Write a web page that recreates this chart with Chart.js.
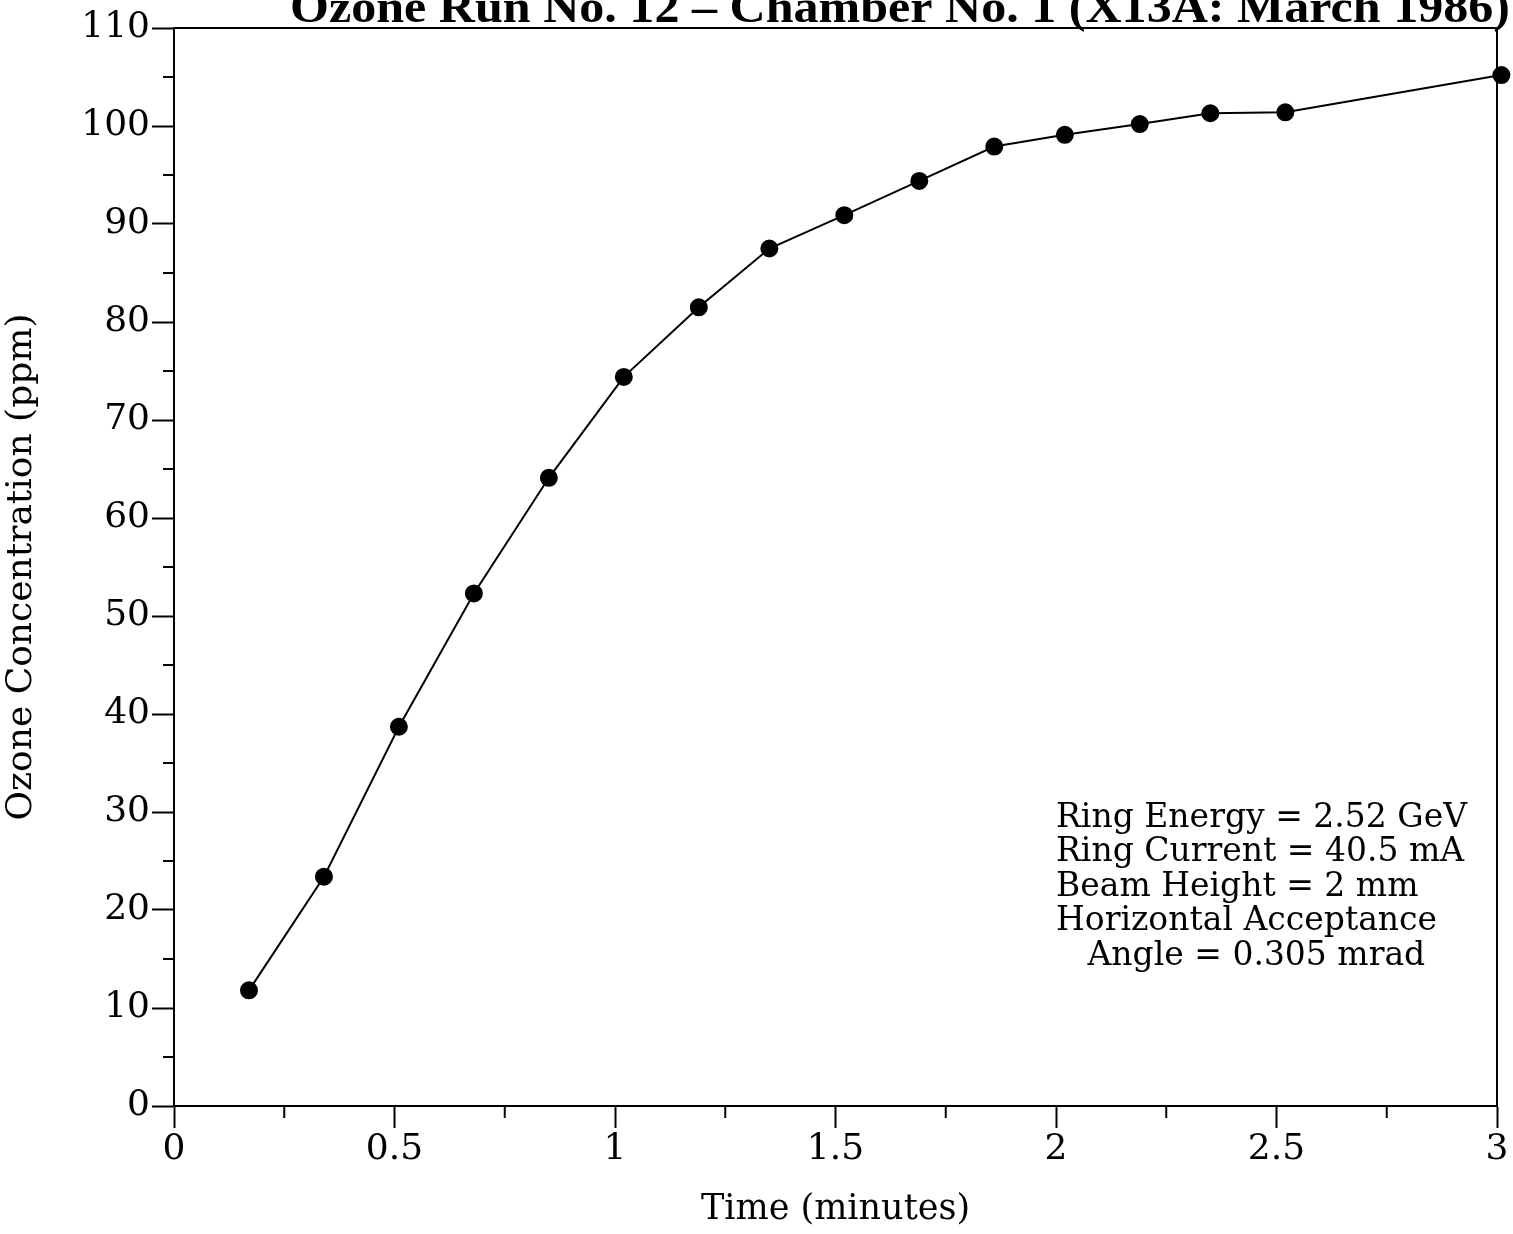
<!DOCTYPE html>
<html>
<head>
<meta charset="utf-8">
<script src="https://cdn.jsdelivr.net/npm/chart.js@4.4.1/dist/chart.umd.min.js"></script>
<style>
  html, body { margin: 0; padding: 0; background: #fff; }
  #wrap { width: 1513px; height: 1234px; position: relative; }
</style>
</head>
<body>
<div id="wrap"><canvas id="ozone-chart"></canvas></div>
<script>
// readings: time in minutes, ozone in ppm
const times = [0.17, 0.34, 0.51, 0.68, 0.85, 1.02, 1.19, 1.35, 1.52, 1.69, 1.86, 2.02, 2.19, 2.35, 2.52, 3.01];
const ozone = [11.8, 23.4, 38.7, 52.3, 64.1, 74.4, 81.5, 87.5, 90.9, 94.4, 97.9, 99.1, 100.2, 101.3, 101.4, 105.2];

const minorX = [0.25, 0.75, 1.25, 1.75, 2.25, 2.75];
const minorY = [5, 15, 25, 35, 45, 55, 65, 75, 85, 95, 105];

const titleText = 'Ozone Run No. 12 \u2013 Chamber No. 1 (X13A: March 1986)';
const noteLines = [
    'Ring Energy = 2.52 GeV',
    'Ring Current = 40.5 mA',
    'Beam Height = 2 mm',
    'Horizontal Acceptance',
    '   Angle = 0.305 mrad'
];

const serif = '"DejaVu Serif", "Liberation Serif", serif';

// box around the plot, the small ticks, the cut-off title and the note
const extras = {
    id: 'extras',
    afterDraw(chart) {
        const ctx = chart.ctx;
        const a = chart.chartArea;
        const x = chart.scales.x;
        const y = chart.scales.y;
        ctx.save();
        ctx.strokeStyle = '#000';
        ctx.lineWidth = 2;
        ctx.strokeRect(a.left, a.top, a.right - a.left, a.bottom - a.top);

        // minor ticks
        ctx.beginPath();
        minorX.forEach(v => {
            const px = x.getPixelForValue(v);
            ctx.moveTo(px, a.bottom);
            ctx.lineTo(px, a.bottom + 12);
        });
        minorY.forEach(v => {
            const py = y.getPixelForValue(v);
            ctx.moveTo(a.left, py);
            ctx.lineTo(a.left - 11, py);
        });
        ctx.stroke();

        // title, top half is cut off in the original scan
        ctx.fillStyle = '#000';
        ctx.font = 'bold 46px "Liberation Serif", serif';
        ctx.textAlign = 'center';
        ctx.textBaseline = 'alphabetic';
        const w = ctx.measureText(titleText).width;
        ctx.save();
        ctx.translate(900, 22);
        ctx.scale(1220 / w, 1);
        ctx.fillText(titleText, 0, 0);
        ctx.restore();

        ctx.font = '33px ' + serif;
        ctx.textAlign = 'left';
        ctx.textBaseline = 'middle';
        noteLines.forEach((line, i) => {
            ctx.fillText(line, 1056, 818 + i * 34.5);
        });
        ctx.restore();
    }
};

new Chart(document.querySelector('#ozone-chart').getContext('2d'), {
    type: 'scatter',
    data: {
        datasets: [{
            label: 'Ozone',
            data: times.map((t, i) => ({ x: t, y: ozone[i] })),
            showLine: true,
            borderColor: '#000',
            borderWidth: 2,
            backgroundColor: '#000',
            pointRadius: 8,
            pointHoverRadius: 8,
            clip: false
        }]
    },
    options: {
        responsive: true,
        maintainAspectRatio: false,
        animation: false,
        layout: { padding: { left: 0, top: 28, right: 16, bottom: 0 } },
        plugins: {
            legend: { display: false },
            tooltip: { enabled: false }
        },
        scales: {
            x: {
                type: 'linear',
                min: 0,
                max: 3,
                afterFit(scale) { scale.height = 128; },
                ticks: {
                    stepSize: 0.5,
                    color: '#000',
                    padding: 0,
                    font: { family: serif, size: 36 },
                    callback: v => String(v)
                },
                grid: { drawOnChartArea: false, tickLength: 22, tickColor: '#000', tickWidth: 2 },
                border: { color: '#000', width: 2 },
                title: {
                    display: true,
                    text: 'Time (minutes)',
                    color: '#000',
                    font: { family: serif, size: 35 },
                    padding: { top: 0, bottom: 3 }
                }
            },
            y: {
                min: 0,
                max: 110,
                afterFit(scale) { scale.width = 174; },
                ticks: {
                    stepSize: 10,
                    color: '#000',
                    padding: 2,
                    font: { family: serif, size: 36 }
                },
                grid: { drawOnChartArea: false, tickLength: 22, tickColor: '#000', tickWidth: 2 },
                border: { color: '#000', width: 2 },
                title: {
                    display: true,
                    text: 'Ozone Concentration (ppm)',
                    color: '#000',
                    font: { family: serif, size: 36 },
                    padding: { top: 0, bottom: 2 }
                }
            }
        }
    },
    plugins: [extras]
});
</script>
</body>
</html>
